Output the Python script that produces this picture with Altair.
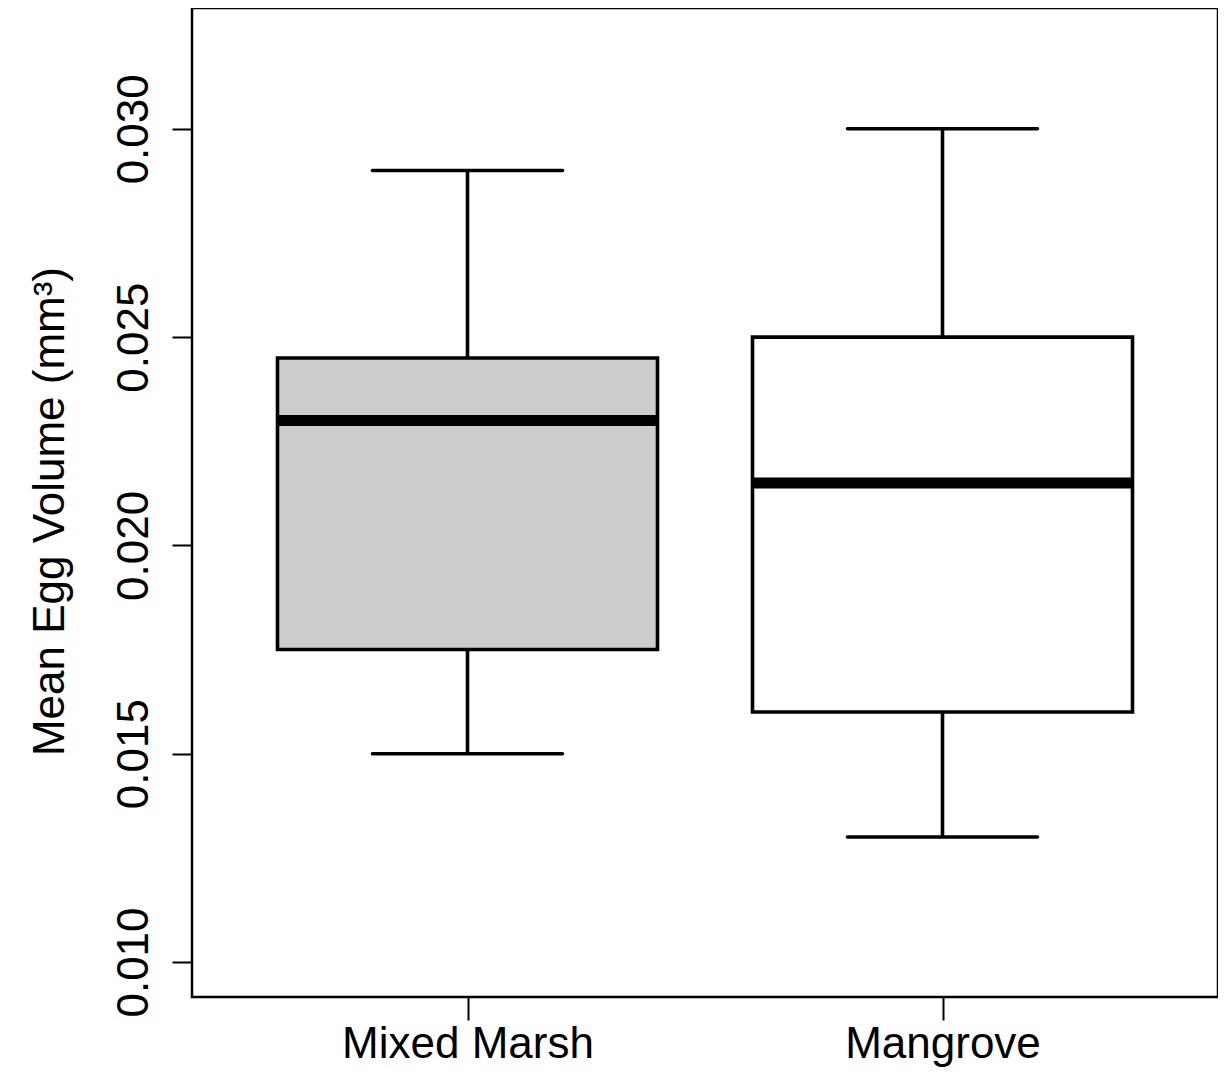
import altair as alt
import pandas as pd

# ---- data ----
groups = ["Mixed Marsh", "Mangrove"]
positions = [1, 2]
lower_whisker = [0.0150, 0.0130]
q1 = [0.0175, 0.0160]
median = [0.0230, 0.0215]
q3 = [0.0245, 0.0250]
upper_whisker = [0.0290, 0.0300]
box_fill = ["#cccccc", "#ffffff"]

y_ticks = [0.010, 0.015, 0.020, 0.025, 0.030]

df = pd.DataFrame({
    "group": groups,
    "pos": positions,
    "lo": lower_whisker,
    "q1": q1,
    "med": median,
    "q3": q3,
    "hi": upper_whisker,
    "fill": box_fill,
})

FONT = "Liberation Sans"
label_expr = " : ".join(
    f"datum.value == {p} ? '{g}'" for p, g in zip(positions, groups)
) + " : ''"

xscale = alt.Scale(domain=[0.42, 2.58], nice=False, zero=False)
yscale = alt.Scale(domain=[0.00916, 0.0329], nice=False, zero=False)

base = alt.Chart(df).transform_calculate(
    box_l="datum.pos - 0.4",
    box_r="datum.pos + 0.4",
    cap_l="datum.pos - 0.2",
    cap_r="datum.pos + 0.2",
)

LW = 3.6

x_axis = alt.Axis(
    values=positions,
    labelExpr=label_expr,
    title=None,
    domain=False,
    grid=False,
    ticks=True,
    tickSize=23,
    tickWidth=2,
    tickColor="black",
    labelFont=FONT,
    labelFontSize=44,
    labelColor="black",
    labelPadding=2,
    labelBaseline="top",
    labelAngle=0,
    labelLimit=0,
    labelOverlap=False,
)
y_axis = alt.Axis(
    values=y_ticks,
    format=".3f",
    title="Mean Egg Volume (mm³)",
    domain=False,
    grid=False,
    tickSize=20,
    tickWidth=2,
    tickColor="black",
    labelFont=FONT,
    labelFontSize=44,
    labelColor="black",
    labelAngle=-90,
    labelAlign="center",
    labelBaseline="alphabetic",
    labelPadding=25,
    labelLimit=0,
    labelOverlap=False,
    titleFont=FONT,
    titleFontSize=44,
    titleFontWeight="normal",
    titleColor="black",
    titleAngle=-90,
    titleAlign="center",
    titleBaseline="bottom",
    titleX=-120,
    titleY=503,
    titleLimit=0,
)

whisker = base.mark_rule(color="black", strokeWidth=LW).encode(
    x=alt.X("pos:Q", scale=xscale, axis=x_axis),
    y=alt.Y("lo:Q", scale=yscale, axis=y_axis),
    y2="hi:Q",
)

cap_hi = base.mark_rule(color="black", strokeWidth=LW, strokeCap="round").encode(
    x=alt.X("cap_l:Q", scale=xscale),
    x2="cap_r:Q",
    y=alt.Y("hi:Q", scale=yscale),
)
cap_lo = base.mark_rule(color="black", strokeWidth=LW, strokeCap="round").encode(
    x=alt.X("cap_l:Q", scale=xscale),
    x2="cap_r:Q",
    y=alt.Y("lo:Q", scale=yscale),
)

box = base.mark_rect(stroke="black", strokeWidth=LW).encode(
    x=alt.X("box_l:Q", scale=xscale),
    x2="box_r:Q",
    y=alt.Y("q1:Q", scale=yscale),
    y2="q3:Q",
    fill=alt.Fill("fill:N", scale=None),
)

med = base.mark_rule(color="black", strokeWidth=11, strokeCap="butt").encode(
    x=alt.X("box_l:Q", scale=xscale),
    x2="box_r:Q",
    y=alt.Y("med:Q", scale=yscale),
)

chart = alt.layer(whisker, cap_hi, cap_lo, box, med).properties(
    width=1026,
    height=989,
    autosize=alt.AutoSizeParams(type="none"),
    padding={"left": 184, "top": 0, "right": 0, "bottom": 70},
    background="white",
).configure_view(
    stroke="black",
    strokeWidth=2.5,
)

chart.save("out.html", embed_options={"renderer": "svg", "actions": False})
